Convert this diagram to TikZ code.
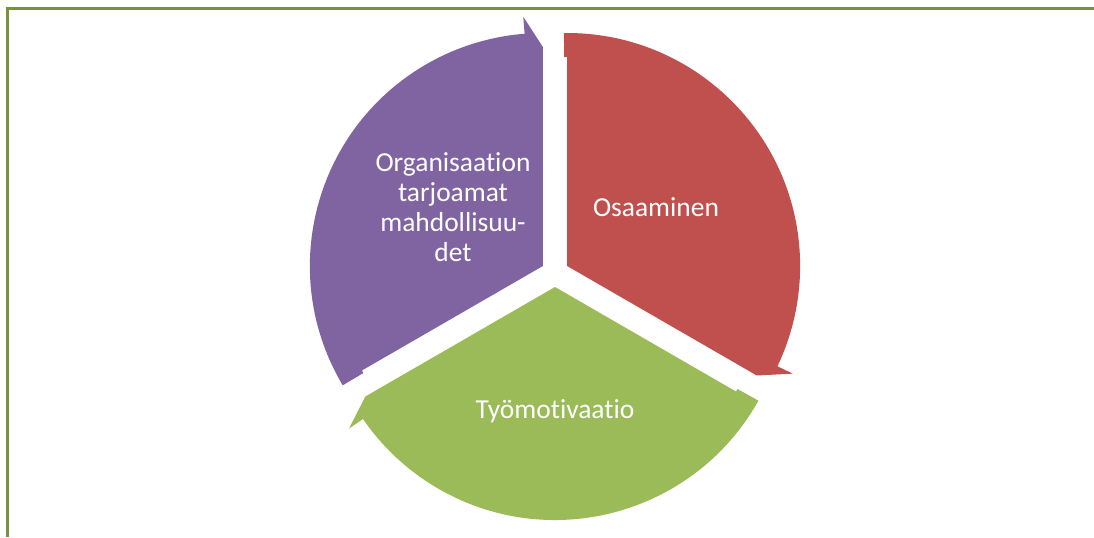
\documentclass[tikz,border=0pt]{standalone}
\usepackage{fontspec}
\setmainfont{Carlito}[Ligatures=NoCommon]
\definecolor{segpurple}{HTML}{8064A2}
\definecolor{segred}{HTML}{C0504D}
\definecolor{seggreen}{HTML}{9BBB59}
\definecolor{frameolive}{HTML}{76923C}
\newcommand\cycleseg[4]{% color, bisector, start angle, end angle
  \fill[#1,shift={(#2:14)}] (0,0) -- (#3:209) -- ({#3+0.8}:209) -- ({#3+0.8}:233)
    arc[start angle={#3+0.8}, end angle={#4+4.5}, radius=233]
    -- ({#4+4.5}:250) -- (#4:219) -- cycle;}
\begin{document}
\begin{tikzpicture}[x=0.75pt,y=0.75pt,
  lbl/.style={text=white,font=\fontsize{20.6}{22.5}\selectfont,align=center,inner sep=0pt}]
\useasboundingbox (0,0) rectangle (1094,537);
\draw[frameolive,line width=2.25pt] (1094,528) -- (7,528) -- (7,0);
\coordinate (C) at (555,264);
\begin{scope}[shift={(C)}]
  \cycleseg{segpurple}{150}{210}{90}
  \cycleseg{segred}{30}{90}{-30}
  \cycleseg{seggreen}{270}{-30}{-150}
\end{scope}
\node[lbl] (org) at (453,330) {Organisaation\\tarjoamat\\mahdollisuu-\\det};
\node[lbl] (osa) at (656,330) {Osaaminen};
\node[lbl] (tyo) at (555,126) {Työmotivaatio};
\end{tikzpicture}
\end{document}
